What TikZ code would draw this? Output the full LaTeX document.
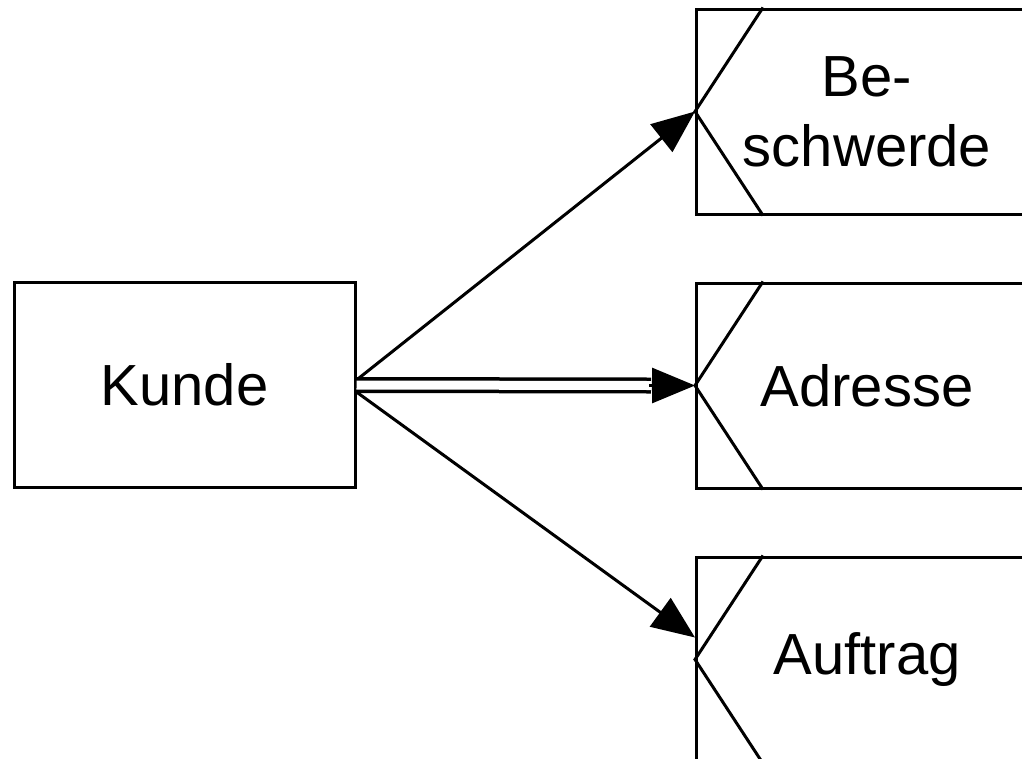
\documentclass[tikz,border=0pt]{standalone}
\usepackage{fontspec}
\setmainfont{Liberation Sans}
\usetikzlibrary{arrows.meta,calc}
\begin{document}
\begin{tikzpicture}[x=1pt,y=-1pt,
  box/.style={draw,line width=3pt,rectangle,minimum width=341pt,minimum height=205pt,
    inner sep=0pt,font=\fontsize{58}{70}\selectfont,align=center},
  chevron/.style={line width=3pt},
  rel/.style={line width=3pt,-{Triangle[length=43pt,width=35pt]}},
  dbl/.style={line width=3.5pt,double distance=9pt}]
  \useasboundingbox (0,0) rectangle (1022,758);
  \clip (0,0) rectangle (1022,758);
  % the entity and its attribute boxes
  \node[box] (kunde) at (184.5,385) {Kunde};
  \node[box] (beschwerde) at (867,111.5) {Be-\\schwerde};
  \node[box] (adresse) at (867,385.5) {Adresse};
  \node[box] (auftrag) at (867,659.5) {Auftrag};
  % chevron marks on the left side of each attribute box
  \foreach \n in {beschwerde,adresse,auftrag}{
    \draw[chevron] ($(\n.north west)+(68,0)$) -- (\n.west) -- ($(\n.south west)+(68,0)$);
  }
  % connectors
  \draw[rel] ($(kunde.east)+(0,-5)$) -- (beschwerde.west);
  \draw[rel] ($(kunde.east)+(0,7)$) -- ($(auftrag.west)+(0,-22)$);
  \coordinate (dblend) at ($(adresse.west)+(-44,0)$);
  \draw[dbl] (kunde.east) -- (dblend);
  \draw[rel] ($(dblend)+(-2,0)$) -- (adresse.west);
\end{tikzpicture}
\end{document}
